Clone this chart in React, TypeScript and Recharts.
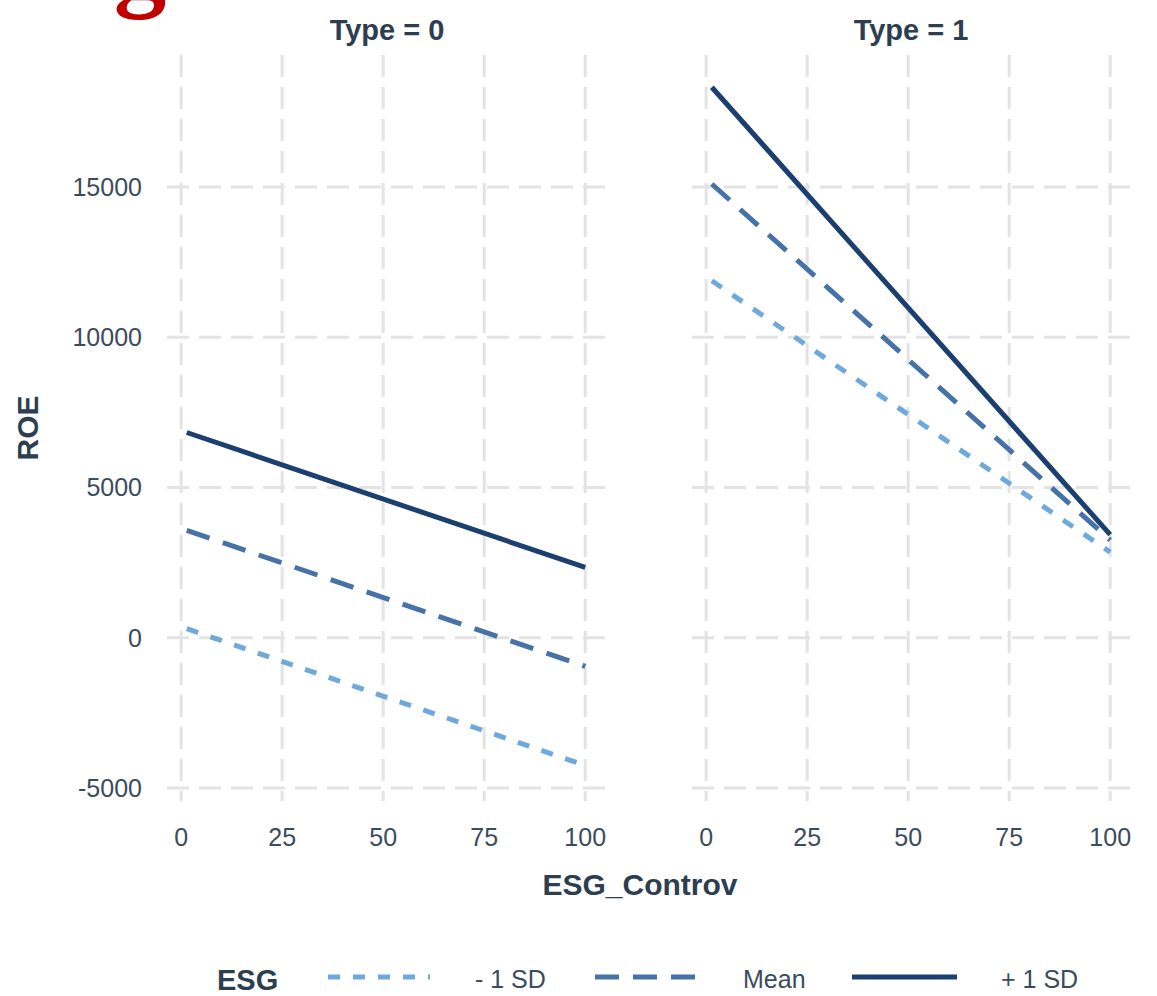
import { LineChart, Line, XAxis, YAxis, CartesianGrid } from "recharts";

// ESG_Controv range used for the fitted lines
const esgControv = [1.4, 100];

// ROE predictions, Type = 0
const type0Minus1SD = [300, -4250];
const type0Mean = [3570, -950];
const type0Plus1SD = [6830, 2340];

// ROE predictions, Type = 1
const type1Minus1SD = [11880, 2850];
const type1Mean = [15100, 3250];
const type1Plus1SD = [18320, 3430];

const xTicks = [0, 25, 50, 75, 100];
const yTicks = [-5000, 0, 5000, 10000, 15000];
const panelTitles = ["Type = 0", "Type = 1"];
const seriesLabels = ["- 1 SD", "Mean", "+ 1 SD"];

const TITLE = "#2c3e50";
const TICK = "#3b4b5e";
const FONT = '"Liberation Sans", Arial, Helvetica, sans-serif';

const series = [
  { key: "minus", name: seriesLabels[0], color: "#6fa8dc", dash: "12 13" },
  { key: "mean", name: seriesLabels[1], color: "#4672a8", dash: "24 14" },
  { key: "plus", name: seriesLabels[2], color: "#1b3f6e", dash: undefined as string | undefined },
];

const buildRows = (minus: number[], mean: number[], plus: number[]) =>
  esgControv.map((x, i) => ({ x, minus: minus[i], mean: mean[i], plus: plus[i] }));

const type0Rows = buildRows(type0Minus1SD, type0Mean, type0Plus1SD);
const type1Rows = buildRows(type1Minus1SD, type1Mean, type1Plus1SD);

const Panel = ({ data, showY }: { data: any[]; showY: boolean }) => (
  <LineChart
    width={showY ? 620 : 465}
    height={870}
    data={data}
    margin={{ top: 55, right: showY ? 15 : 27, bottom: 0, left: 0 }}
  >
    <CartesianGrid stroke="#e3e3e3" strokeWidth={3} strokeDasharray="22 10" syncWithTicks />
    <XAxis
      dataKey="x"
      type="number"
      domain={[-3.5, 104.9]}
      ticks={xTicks}
      interval={0}
      allowDataOverflow
      axisLine={false}
      tickLine={false}
      tickSize={0}
      tickMargin={27}
      height={69}
      tick={{ fill: TICK, fontSize: 25 }}
    />
    <YAxis
      type="number"
      domain={[-5433, 19393]}
      ticks={yTicks}
      interval={0}
      allowDataOverflow
      hide={!showY}
      width={167}
      axisLine={false}
      tickLine={false}
      tickSize={0}
      tickMargin={25}
      tick={{ fill: TICK, fontSize: 25 }}
    />
    {series.map((s) => (
      <Line
        key={s.key}
        type="linear"
        dataKey={s.key}
        stroke={s.color}
        strokeWidth={5}
        strokeDasharray={s.dash}
        dot={false}
        activeDot={false}
        isAnimationActive={false}
      />
    ))}
  </LineChart>
);

const legendKeys = [
  { x1: 328, x2: 430, lx: 475 },
  { x1: 595, x2: 698, lx: 743 },
  { x1: 852, x2: 957, lx: 1001 },
];

export default function App() {
  return (
    <div
      style={{
        position: "absolute",
        left: 0,
        top: 0,
        width: 1157,
        height: 996,
        background: "#fff",
        fontFamily: FONT,
        overflow: "hidden",
      }}
    >
      <div style={{ position: "absolute", left: 0, top: 0 }}>
        <Panel data={type0Rows} showY />
      </div>
      <div style={{ position: "absolute", left: 692, top: 0 }}>
        <Panel data={type1Rows} showY={false} />
      </div>

      <svg
        width={1157}
        height={996}
        style={{ position: "absolute", left: 0, top: 0, pointerEvents: "none" }}
      >
        <text x={140} y={-3} textAnchor="middle" fontFamily='"Liberation Serif", serif' fontWeight="bold" fontSize={105} fill="#c00000">
          g
        </text>

        <text x={387} y={40} textAnchor="middle" fontSize={29} fontWeight="bold" fill={TITLE}>
          {panelTitles[0]}
        </text>
        <text x={911} y={40} textAnchor="middle" fontSize={29} fontWeight="bold" fill={TITLE}>
          {panelTitles[1]}
        </text>

        <text transform="translate(38,428) rotate(-90)" textAnchor="middle" fontSize={30} fontWeight="bold" fill={TITLE}>
          ROE
        </text>
        <text x={640} y={895} textAnchor="middle" fontSize={30} fontWeight="bold" fill={TITLE}>
          ESG_Controv
        </text>

        <text x={217} y={990} fontSize={29} fontWeight="bold" fill={TITLE}>
          ESG
        </text>
        {series.map((s, i) => (
          <g key={s.key}>
            <line
              x1={legendKeys[i].x1}
              x2={legendKeys[i].x2}
              y1={977}
              y2={977}
              stroke={s.color}
              strokeWidth={5}
              strokeDasharray={s.dash}
            />
            <text x={legendKeys[i].lx} y={988} fontSize={25} fill={TICK}>
              {s.name}
            </text>
          </g>
        ))}
      </svg>
    </div>
  );
}
